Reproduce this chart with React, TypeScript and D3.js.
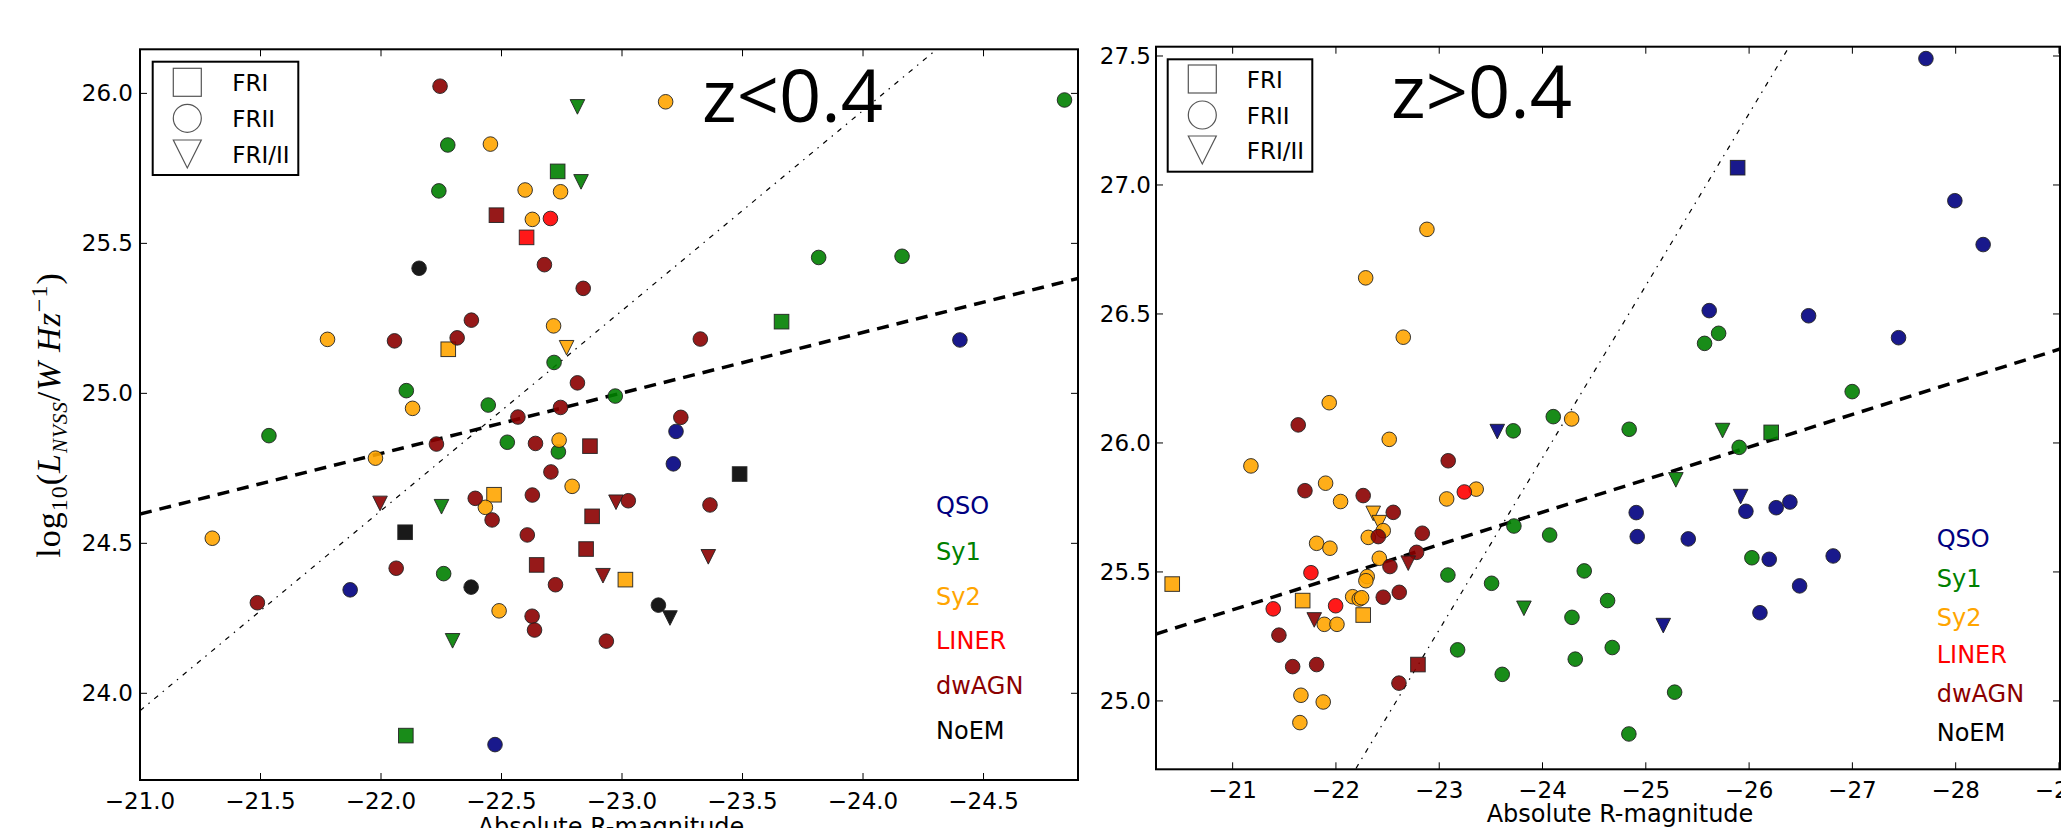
import React from "react";
import * as d3 from "d3";

const W = 2061;
const H = 828;
const FONT = "'DejaVu Sans', sans-serif";

const classNames = ["QSO", "Sy1", "Sy2", "LINER", "dwAGN", "NoEM"];
const classColors = ["navy", "green", "orange", "red", "darkred", "black"];
const morphLabels = ["FRI", "FRII", "FRI/II"];
const morphMarkers = ["s", "o", "v"];

// ---- z < 0.4 sample ----
const lowMag = [
  -22.245, -22.277, -22.454, -22.24, -22.598, -22.479, -22.158, -22.375, -21.778, -22.056,
  -22.316, -22.279, -22.105, -22.131, -22.445, -22.604, -22.815, -23.181, -22.733, -22.83,
  -22.745, -22.628, -22.703, -22.678, -22.839, -23.816, -24.162, -23.662, -23.325, -24.402,
  -22.716, -22.77, -22.718, -22.815, -22.972, -22.745, -23.244, -24.836, -21.535, -22.568,
  -22.23, -22.524, -21.977, -21.996, -22.251, -22.391, -22.469, -22.433, -22.461, -22.1,
  -21.3, -22.063, -22.26, -21.872, -22.374, -21.487, -22.49, -22.297, -22.103, -22.473,
  -23.224, -22.641, -22.739, -22.736, -22.867, -23.213, -23.488, -22.705, -22.793, -22.628,
  -22.975, -23.026, -23.365, -22.876, -22.607, -22.851, -23.358, -22.646, -22.724, -22.921,
  -23.014, -23.151, -23.199, -22.627, -22.637, -22.935,
];
const lowLum = [
  26.024, 25.828, 25.831, 25.675, 25.678, 25.594, 25.417, 25.244, 25.18, 25.175,
  25.185, 25.147, 25.009, 24.95, 24.961, 25.52, 25.955, 25.972, 25.74, 25.705,
  25.672, 25.58, 25.583, 25.429, 25.35, 25.453, 25.457, 25.239, 25.181, 25.178,
  25.225, 25.152, 25.103, 25.035, 24.991, 24.953, 24.92, 25.978, 24.859, 24.921,
  24.831, 24.837, 24.784, 24.633, 24.622, 24.65, 24.662, 24.62, 24.578, 24.537,
  24.517, 24.417, 24.399, 24.345, 24.354, 24.302, 24.275, 24.175, 23.859, 23.829,
  24.873, 24.833, 24.844, 24.805, 24.824, 24.765, 24.731, 24.738, 24.69, 24.661,
  24.637, 24.642, 24.628, 24.59, 24.528, 24.481, 24.455, 24.428, 24.362, 24.392,
  24.379, 24.294, 24.251, 24.257, 24.211, 24.174,
];
const lowClass = [
  "dwAGN", "Sy1", "Sy2", "Sy1", "Sy2", "dwAGN", "NoEM", "dwAGN", "Sy2", "dwAGN",
  "dwAGN", "Sy2", "Sy1", "Sy2", "Sy1", "LINER", "Sy1", "Sy2", "Sy1", "Sy1",
  "Sy2", "Sy2", "LINER", "dwAGN", "dwAGN", "Sy1", "Sy1", "Sy1", "dwAGN", "QSO",
  "Sy2", "Sy2", "Sy1", "dwAGN", "Sy1", "dwAGN", "dwAGN", "Sy1", "Sy1", "dwAGN",
  "dwAGN", "Sy1", "Sy2", "dwAGN", "Sy1", "dwAGN", "Sy2", "Sy2", "dwAGN", "NoEM",
  "Sy2", "dwAGN", "Sy1", "QSO", "NoEM", "dwAGN", "Sy2", "Sy1", "Sy1", "QSO",
  "QSO", "dwAGN", "Sy2", "Sy1", "dwAGN", "QSO", "NoEM", "dwAGN", "Sy2", "dwAGN",
  "dwAGN", "dwAGN", "dwAGN", "dwAGN", "dwAGN", "dwAGN", "dwAGN", "dwAGN", "dwAGN", "dwAGN",
  "Sy2", "NoEM", "NoEM", "dwAGN", "dwAGN", "dwAGN",
];
const lowMarker = [
  "o", "o", "o", "o", "o", "s", "o", "o", "o", "o",
  "o", "s", "o", "o", "o", "s", "v", "o", "s", "v",
  "o", "o", "o", "o", "o", "o", "o", "s", "o", "o",
  "o", "v", "o", "o", "o", "o", "o", "o", "o", "o",
  "o", "o", "o", "v", "v", "o", "s", "o", "o", "s",
  "o", "o", "o", "o", "o", "o", "o", "v", "s", "o",
  "o", "o", "o", "o", "s", "o", "s", "o", "o", "o",
  "v", "o", "o", "s", "o", "s", "v", "s", "o", "v",
  "s", "o", "v", "o", "o", "o",
];
const lowXTicks = [-21.0, -21.5, -22.0, -22.5, -23.0, -23.5, -24.0, -24.5];
const lowYTicks = [24.0, 24.5, 25.0, 25.5, 26.0];
const lowFit = [20.36, -0.2018]; // intercept, slope

// ---- z > 0.4 sample ----
const highMag = [
  -22.881, -22.288, -22.652, -21.935, -21.635, -24.104, -24.282, -27.712, -25.889, -27.992,
  -28.266, -25.614, -25.705, -25.569, -26.576, -27.447, -26.998, -21.177, -22.516, -23.562,
  -23.717, -23.087, -21.7, -21.9, -22.045, -22.264, -22.361, -22.42, -22.555, -22.458,
  -22.313, -22.41, -22.836, -23.072, -23.243, -23.358, -21.813, -21.942, -22.42, -22.781,
  -22.7, -22.523, -21.758, -22.303, -22.29, -20.415, -21.678, -22.162, -22.226, -22.249,
  -22.458, -22.613, -21.393, -21.997, -22.264, -21.79, -21.887, -22.01, -21.448, -21.581,
  -21.813, -21.661, -21.877, -21.651, -22.61, -22.794, -23.723, -24.069, -23.084, -23.507,
  -23.82, -24.285, -23.178, -24.317, -23.61, -24.404, -24.839, -25.743, -26.214, -25.904,
  -25.291, -25.918, -24.907, -25.969, -26.262, -26.395, -24.917, -25.411, -26.027, -26.195,
  -26.814, -26.489, -24.63, -25.169, -26.105, -24.675, -25.279, -24.836,
];
const highLum = [
  26.828, 26.64, 26.41, 26.156, 26.07, 26.102, 26.093, 27.49, 27.067, 26.939,
  26.769, 26.513, 26.425, 26.386, 26.493, 26.408, 26.199, 25.911, 26.014, 26.044,
  26.047, 25.931, 25.815, 25.844, 25.773, 25.796, 25.727, 25.691, 25.731, 25.66,
  25.634, 25.637, 25.65, 25.783, 25.81, 25.821, 25.611, 25.592, 25.553, 25.576,
  25.534, 25.521, 25.497, 25.482, 25.466, 25.453, 25.389, 25.404, 25.395, 25.4,
  25.402, 25.421, 25.357, 25.369, 25.333, 25.314, 25.297, 25.297, 25.255, 25.133,
  25.141, 25.022, 24.996, 24.916, 25.069, 25.141, 25.678, 25.643, 25.488, 25.456,
  25.359, 25.324, 25.198, 25.162, 25.103, 25.504, 26.053, 26.048, 26.041, 25.983,
  25.857, 25.792, 25.73, 25.735, 25.749, 25.771, 25.637, 25.628, 25.555, 25.549,
  25.562, 25.446, 25.389, 25.292, 25.342, 25.207, 25.034, 24.872,
];
const highClass = [
  "Sy2", "Sy2", "Sy2", "Sy2", "dwAGN", "Sy1", "Sy2", "QSO", "QSO", "QSO",
  "QSO", "QSO", "Sy1", "Sy1", "QSO", "QSO", "Sy1", "Sy2", "Sy2", "QSO",
  "Sy1", "dwAGN", "dwAGN", "Sy2", "Sy2", "dwAGN", "Sy2", "Sy2", "dwAGN", "Sy2",
  "Sy2", "dwAGN", "dwAGN", "Sy2", "LINER", "Sy2", "Sy2", "Sy2", "Sy2", "dwAGN",
  "dwAGN", "dwAGN", "LINER", "Sy2", "Sy2", "Sy2", "Sy2", "Sy2", "Sy2", "Sy2",
  "dwAGN", "dwAGN", "LINER", "LINER", "Sy2", "dwAGN", "Sy2", "Sy2", "dwAGN", "dwAGN",
  "dwAGN", "Sy2", "Sy2", "Sy2", "dwAGN", "dwAGN", "Sy1", "Sy1", "Sy1", "Sy1",
  "Sy1", "Sy1", "Sy1", "Sy1", "Sy1", "Sy1", "Sy1", "Sy1", "Sy1", "Sy1",
  "Sy1", "QSO", "QSO", "QSO", "QSO", "QSO", "QSO", "QSO", "Sy1", "QSO",
  "QSO", "QSO", "Sy1", "QSO", "QSO", "Sy1", "Sy1", "Sy1",
];
const highMarker = [
  "o", "o", "o", "o", "o", "o", "o", "o", "s", "o",
  "o", "o", "o", "o", "o", "o", "o", "o", "o", "v",
  "o", "o", "o", "o", "o", "o", "v", "v", "o", "o",
  "o", "o", "o", "o", "o", "o", "o", "o", "o", "o",
  "v", "o", "o", "o", "o", "s", "s", "o", "o", "o",
  "o", "o", "o", "o", "s", "v", "o", "o", "o", "o",
  "o", "o", "o", "o", "o", "s", "o", "o", "o", "o",
  "v", "o", "o", "o", "o", "o", "o", "v", "s", "o",
  "v", "v", "o", "o", "o", "o", "o", "o", "o", "o",
  "o", "o", "o", "v", "o", "o", "o", "o",
];
const highXTicks = [-21, -22, -23, -24, -25, -26, -27, -28, -29];
const highYTicks = [25.0, 25.5, 26.0, 26.5, 27.0, 27.5];
const highFit = [22.703, -0.1262];

// reference relation drawn in both panels
const refLine = [9.935, -0.667];

function markerShape(m, x, y, s, props) {
  if (m === "o") return <circle cx={x} cy={y} r={s} {...props} />;
  if (m === "s") return <rect x={x - s} y={y - s} width={2 * s} height={2 * s} {...props} />;
  return <path d={`M${x - s},${y - s}L${x + s},${y - s}L${x},${y + s}Z`} {...props} />;
}

function Panel(p) {
  const { id, mag, lum, cls, mk, box, legendBox } = p;
  const x = d3.scaleLinear().domain(p.xDomain).range([box.left, box.right]);
  const y = d3.scaleLinear().domain(p.yDomain).range([box.bottom, box.top]);
  const xf = d3.format(p.xFmt);
  const yf = d3.format(".1f");
  const line = d3.line().x((d) => x(d[0])).y((d) => y(d[1]));
  const fitPts = (c) => p.xDomain.map((m) => [m, c[0] + c[1] * m]);

  const order = d3
    .range(mag.length)
    .sort((a, b) => classNames.indexOf(cls[a]) - classNames.indexOf(cls[b]) || a - b);

  const tk = 7;
  return (
    <g>
      <defs>
        <clipPath id={`clip-${id}`}>
          <rect x={box.left} y={box.top} width={box.right - box.left} height={box.bottom - box.top} />
        </clipPath>
      </defs>
      <g clipPath={`url(#clip-${id})`}>
        <path d={line(fitPts(refLine))} fill="none" stroke="#000" strokeWidth={1.2} strokeDasharray="5 6 1.5 6" />
        <path d={line(fitPts(p.fit))} fill="none" stroke="#000" strokeWidth={3.5} strokeDasharray="12 8" />
        {order.map((i) => (
          <g key={i}>
            {markerShape(mk[i], x(mag[i]), y(lum[i]), 7.3, {
              fill: classColors[classNames.indexOf(cls[i])],
              fillOpacity: 0.9,
              stroke: "#222",
              strokeOpacity: 0.9,
              strokeWidth: 1,
            })}
          </g>
        ))}
      </g>

      {/* title */}
      <text x={p.title.x} y={p.title.y} fontFamily="'Open Sans', sans-serif" fontSize={74} fill="#000">
        {p.title.text}
      </text>

      {/* class labels */}
      {classNames.map((c, i) => (
        <text key={c} x={p.classX} y={p.classY[i] + 9} fontFamily={FONT} fontSize={24} fill={classColors[i]}>
          {c}
        </text>
      ))}

      {/* morphology legend */}
      <rect x={legendBox.x} y={legendBox.y} width={legendBox.w} height={legendBox.h} fill="#fff" stroke="#000" strokeWidth={2} />
      {morphLabels.map((lab, i) => (
        <g key={lab}>
          {markerShape(morphMarkers[i], legendBox.mx, legendBox.rows[i], 14, {
            fill: "none",
            stroke: "#555",
            strokeWidth: 1.2,
          })}
          <text x={legendBox.tx} y={legendBox.rows[i] + 8.5} fontFamily={FONT} fontSize={23} fill="#000">
            {lab}
          </text>
        </g>
      ))}

      {/* ticks */}
      {p.xTicks.map((t) => (
        <g key={`x${t}`}>
          <line x1={x(t)} x2={x(t)} y1={box.bottom} y2={box.bottom - tk} stroke="#000" />
          <line x1={x(t)} x2={x(t)} y1={box.top} y2={box.top + tk} stroke="#000" />
          <text x={x(t)} y={box.bottom + 29} textAnchor="middle" fontFamily={FONT} fontSize={23} fill="#000">
            {xf(t)}
          </text>
        </g>
      ))}
      {p.yTicks.map((t) => (
        <g key={`y${t}`}>
          <line x1={box.left} x2={box.left + tk} y1={y(t)} y2={y(t)} stroke="#000" />
          <line x1={box.right} x2={box.right - tk} y1={y(t)} y2={y(t)} stroke="#000" />
          <text x={box.left - p.yGap} y={y(t) + 8} textAnchor="end" fontFamily={FONT} fontSize={23} fill="#000">
            {yf(t)}
          </text>
        </g>
      ))}

      <rect
        x={box.left}
        y={box.top}
        width={box.right - box.left}
        height={box.bottom - box.top}
        fill="none"
        stroke="#000"
        strokeWidth={2}
      />

      <text x={p.xLabel.x} y={p.xLabel.y} textAnchor="middle" fontFamily={FONT} fontSize={24} fill="#000">
        Absolute R-magnitude
      </text>
      {p.yLabel && (
        <text
          transform={`translate(${p.yLabel.x},${p.yLabel.y}) rotate(-90)`}
          textAnchor="middle"
          fontFamily="'Liberation Serif', serif"
          fontSize={34}
          letterSpacing={1}
          fill="#000"
        >
          <tspan>log</tspan>
          <tspan fontSize={24} dy={7}>10</tspan>
          <tspan dy={-7}>(</tspan>
          <tspan fontStyle="italic">L</tspan>
          <tspan fontStyle="italic" fontSize={21} dy={7}>NVSS</tspan>
          <tspan dy={-7}>/</tspan>
          <tspan fontStyle="italic">W Hz</tspan>
          <tspan fontSize={24} dy={-13}>−1</tspan>
          <tspan dy={13}>)</tspan>
        </text>
      )}
    </g>
  );
}

export default function App() {
  return (
    <svg
      width={W}
      height={H}
      viewBox={`0 0 ${W} ${H}`}
      style={{ position: "absolute", left: 0, top: 0, background: "#fff" }}
    >
      <Panel
        id="low"
        mag={lowMag}
        lum={lowLum}
        cls={lowClass}
        mk={lowMarker}
        xDomain={[-21.0, -24.892]}
        yDomain={[23.711, 26.147]}
        box={{ left: 140, right: 1078, top: 49.3, bottom: 780 }}
        xTicks={lowXTicks}
        yTicks={lowYTicks}
        xFmt=".1f"
        fit={lowFit}
        yGap={7}
        title={{ text: "z<0.4", x: 702, y: 122 }}
        classX={936}
        classY={[504.7, 550.7, 595.7, 640, 684.7, 730]}
        legendBox={{ x: 152.7, y: 61.7, w: 145.6, h: 113.3, mx: 187.3, tx: 232.3, rows: [82.3, 118.3, 154] }}
        xLabel={{ x: 611, y: 835 }}
        yLabel={{ x: 60, y: 415 }}
      />
      <Panel
        id="high"
        mag={highMag}
        lum={highLum}
        cls={highClass}
        mk={highMarker}
        xDomain={[-20.258, -29.01]}
        yDomain={[24.735, 27.536]}
        box={{ left: 1156, right: 2060, top: 46.7, bottom: 769.3 }}
        xTicks={highXTicks}
        yTicks={highYTicks}
        xFmt="d"
        fit={highFit}
        yGap={5}
        title={{ text: "z>0.4", x: 1391, y: 118 }}
        classX={1936.7}
        classY={[538.3, 578.3, 616.7, 654, 693.3, 731.7]}
        legendBox={{ x: 1167.7, y: 59.3, w: 144.6, h: 112.4, mx: 1202.3, tx: 1246.7, rows: [79, 115, 150] }}
        xLabel={{ x: 1620, y: 822 }}
      />
    </svg>
  );
}
